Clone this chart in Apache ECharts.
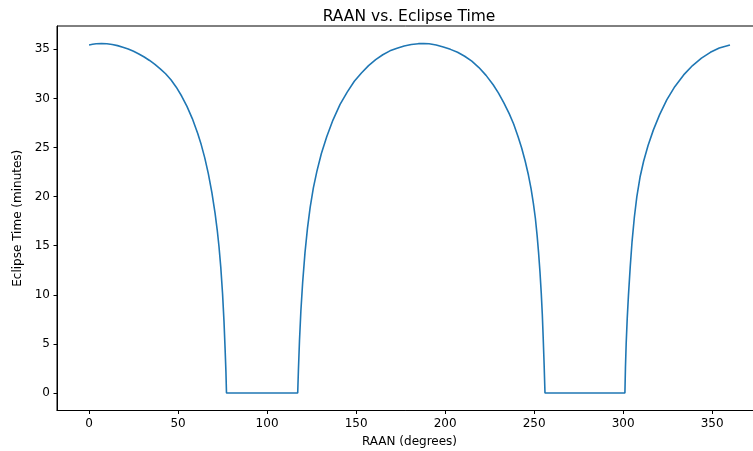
<!DOCTYPE html>
<html>
<head>
<meta charset="utf-8">
<script src="https://cdn.jsdelivr.net/npm/echarts@6/dist/echarts.min.js"></script>
<style>
html,body{margin:0;padding:0;background:#fff;}
#chart{width:753px;height:451px;}
</style>
</head>
<body>
<div id="chart"></div>
<script>
// RAAN (degrees)
const raan = [
  0, 2, 4, 7, 10, 13, 16, 19, 22, 25, 28, 31, 34, 37, 40, 43, 46, 49, 52, 55, 58, 61, 63, 65, 67, 69, 70.8, 72, 73, 74, 75, 75.8, 76.4, 76.9, 77.2,
  117.2, 117.6, 118.2, 119, 120, 121.3, 122.7, 124.2, 126, 128, 130.5, 133.5, 137, 141, 145, 149, 153, 157, 161, 165, 169, 173, 177, 181, 185, 188,
  191, 195, 199, 203, 207, 211, 215, 219, 223, 227, 230, 233, 236, 238.5, 241, 243, 245, 246.8, 248.3, 249.6, 250.7, 251.7, 252.5, 253.3, 254, 254.6, 255.1, 255.6, 256.1,
  301, 301.3, 301.7, 302.3, 303, 304, 305, 306.3, 307.7, 309.5, 311.5, 314, 317, 320.5, 324.5, 329, 334, 339, 344, 349, 354, 360
];
// Eclipse time (minutes)
const eclipse = [
  35.45, 35.52, 35.57, 35.6, 35.57, 35.5, 35.38, 35.22, 35.03, 34.8, 34.53, 34.22, 33.87, 33.47, 33.02, 32.52, 31.9, 31.15, 30.25, 29.2, 27.95, 26.45, 25.3, 23.95, 22.35, 20.4, 18.3, 16.6, 14.9, 12.8, 10.1, 7.3, 4.6, 2.1, 0,
  0, 2.3, 5.3, 8.4, 11.3, 14.3, 16.8, 18.9, 20.9, 22.6, 24.4, 26.1, 27.8, 29.4, 30.65, 31.75, 32.6, 33.35, 33.95, 34.45, 34.85, 35.12, 35.35, 35.5, 35.58, 35.6,
  35.57, 35.45, 35.25, 35.0, 34.7, 34.3, 33.8, 33.15, 32.35, 31.4, 30.55, 29.55, 28.45, 27.4, 26.1, 24.95, 23.6, 22.2, 20.8, 19.3, 17.8, 16.0, 14.3, 12.3, 10.2, 8.0, 5.6, 3.0, 0,
  0, 2.6, 5.0, 7.6, 10.0, 12.9, 15.4, 17.9, 20.0, 22.0, 23.6, 25.2, 26.8, 28.35, 29.85, 31.2, 32.4, 33.35, 34.1, 34.7, 35.13, 35.45
];
const xTicks = [0, 50, 100, 150, 200, 250, 300, 350];
const yTicks = [0, 5, 10, 15, 20, 25, 30, 35];

const titleText = 'RAAN vs. Eclipse Time';
const xName = 'RAAN (degrees)';
const yName = 'Eclipse Time (minutes)';

const pts = raan.map((x, i) => [x, eclipse[i]]);
const font = 'DejaVu Sans';

const chart = echarts.init(document.getElementById('chart'), null, {renderer: 'canvas'});
chart.setOption({
  animation: false,
  backgroundColor: '#fff',
  title: {
    text: titleText,
    left: 404,
    textAlign: 'center',
    top: 4,
    textStyle: {fontFamily: font, fontSize: 15.5, fontWeight: 'normal', color: '#000'}
  },
  grid: {
    left: 57, top: 26, width: 705, height: 384.5,
    containLabel: false,
    outerBoundsMode: 'none',
    show: true, borderColor: '#000', borderWidth: 1, backgroundColor: 'transparent'
  },
  xAxis: {
    type: 'value', min: -18, max: 378,
    name: xName, nameLocation: 'middle', nameGap: 25,
    nameTextStyle: {fontFamily: font, fontSize: 12, color: '#000'},
    axisLine: {show: true, onZero: false, lineStyle: {color: '#000', width: 1}},
    axisTick: {show: true, length: 3.5, customValues: xTicks, lineStyle: {color: '#000'}},
    axisLabel: {customValues: xTicks, margin: 7, fontFamily: font, fontSize: 12, color: '#000'},
    splitLine: {show: false}
  },
  yAxis: {
    type: 'value', min: -1.78, max: 37.38,
    name: yName, nameLocation: 'middle', nameGap: 29.5, nameRotate: 90,
    nameTextStyle: {fontFamily: font, fontSize: 12, color: '#000'},
    axisLine: {show: true, onZero: false, lineStyle: {color: '#000', width: 1}},
    axisTick: {show: true, length: 3.5, customValues: yTicks, lineStyle: {color: '#000'}},
    axisLabel: {customValues: yTicks, margin: 7, fontFamily: font, fontSize: 12, color: '#000'},
    splitLine: {show: false}
  },
  series: [{
    type: 'line',
    data: pts,
    showSymbol: false,
    smooth: false,
    clip: true,
    lineStyle: {color: '#1f77b4', width: 1.6},
    itemStyle: {color: '#1f77b4'}
  }]
});
</script>
</body>
</html>
